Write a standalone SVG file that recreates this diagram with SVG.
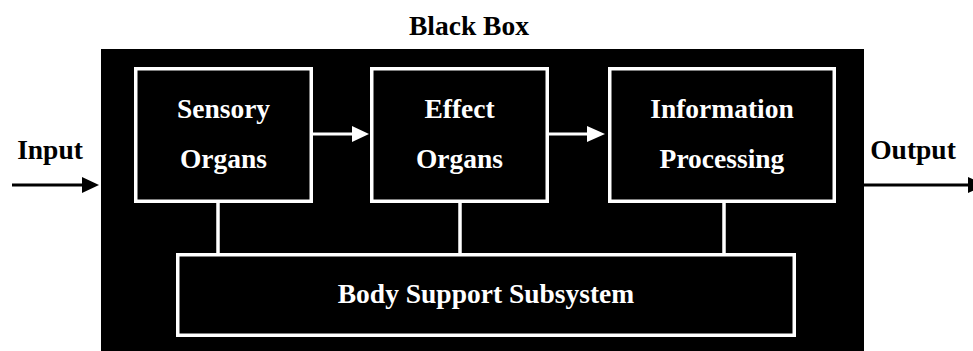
<svg xmlns="http://www.w3.org/2000/svg" width="973" height="351" viewBox="0 0 973 351">
<style>
.box{fill:#000;stroke:#fff;stroke-width:3.5}
.wt{fill:#fff;font-family:"Liberation Serif","Times New Roman",serif;font-weight:bold;font-size:27.5px;text-anchor:middle}
.bt{fill:#000;font-family:"Liberation Serif","Times New Roman",serif;font-weight:bold;font-size:27.5px;text-anchor:middle}
.wl{stroke:#fff;stroke-width:3.5;fill:none}
.bl{stroke:#000;stroke-width:3.5;fill:none}
</style>
<rect width="973" height="351" fill="#fff"/>
<g id="blackbox">
<rect x="101" y="49" width="763" height="302" fill="#000"/>
<text class="bt" x="469" y="35">Black Box</text>
</g>
<g id="input-label"><text class="bt" x="50" y="159">Input</text></g>
<g id="output-label"><text class="bt" x="913" y="159">Output</text></g>
<g id="sensory">
<rect class="box" x="135.75" y="68.75" width="175.5" height="132.5"/>
<text class="wt" x="223.5" y="118">Sensory</text>
<text class="wt" x="223.5" y="168">Organs</text>
</g>
<g id="effect">
<rect class="box" x="371.75" y="68.75" width="175.5" height="132.5"/>
<text class="wt" x="459.5" y="118">Effect</text>
<text class="wt" x="459.5" y="168">Organs</text>
</g>
<g id="info">
<rect class="box" x="609.75" y="68.75" width="224.5" height="132.5"/>
<text class="wt" x="722" y="118">Information</text>
<text class="wt" x="722" y="168">Processing</text>
</g>
<g id="body">
<rect class="box" x="177.75" y="254.75" width="616.5" height="80.5"/>
<text class="wt" x="486" y="303">Body Support Subsystem</text>
</g>
<g id="connectors">
<line class="wl" x1="218" y1="203" x2="218" y2="253"/>
<line class="wl" x1="460" y1="203" x2="460" y2="253"/>
<line class="wl" x1="724" y1="203" x2="724" y2="253"/>
<line class="wl" x1="313" y1="134" x2="354" y2="134" style="stroke-width:3"/>
<polygon points="352,126 369,134 352,142" fill="#fff"/>
<line class="wl" x1="549" y1="134" x2="589" y2="134" style="stroke-width:3"/>
<polygon points="587,126 605,134 587,142" fill="#fff"/>
<line class="bl" x1="12" y1="185" x2="84" y2="185" style="stroke-width:3"/>
<polygon points="82,177 99,185 82,193" fill="#000"/>
<line class="bl" x1="864" y1="185" x2="970" y2="185" style="stroke-width:3"/>
<polygon points="968,177 985,185 968,193" fill="#000"/>
</g>
</svg>
